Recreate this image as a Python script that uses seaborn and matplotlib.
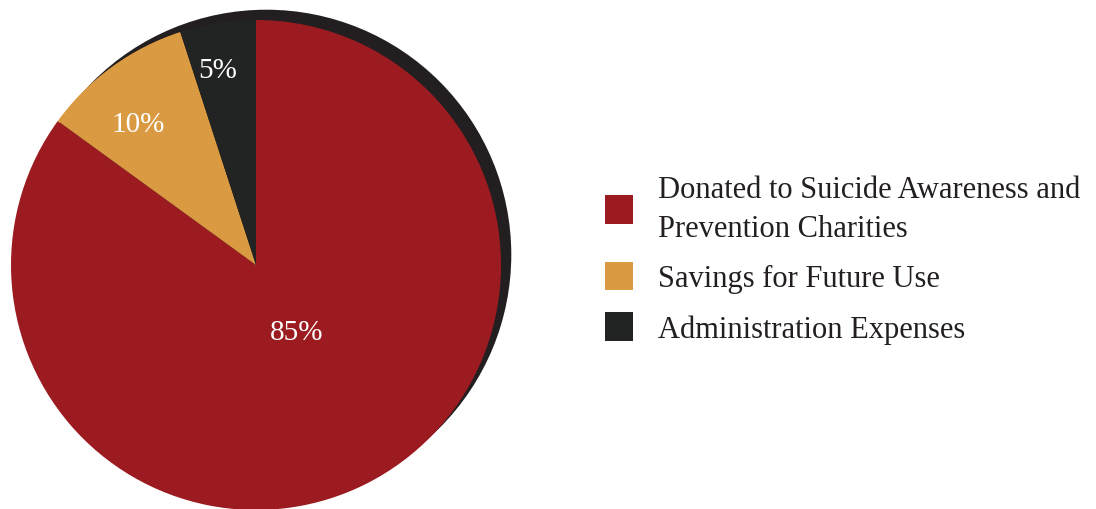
import numpy as np
import matplotlib
matplotlib.use("Agg")
import matplotlib.pyplot as plt
import matplotlib.transforms as mtransforms
from matplotlib.patches import Circle
import seaborn as sns

categories = ["Donated to Suicide Awareness and\nPrevention Charities",
              "Savings for Future Use",
              "Administration Expenses"]
values = [85, 10, 5]
pct_labels = ["85%", "10%", "5%"]
colors = ["#9B1B20", "#D99A42", "#222423"]

sns.set_theme(style="white")
plt.rcParams['font.family'] = ['Liberation Serif', 'DejaVu Serif']

W, H = 1096, 510
fig = plt.figure(figsize=(W / 100, H / 100), dpi=100)
cx, cy, r = 256, 266, 245
ax = fig.add_axes([(cx - r) / W, (H - cy - r) / H, 2 * r / W, 2 * r / H])

# shadow disc behind the pie
shadow = Circle((0.042, 0.042), 1.0, facecolor="#231F20", edgecolor="none",
                zorder=0, clip_on=False)
ax.add_patch(shadow)

wedges, _ = ax.pie(values, colors=colors, startangle=90, counterclock=False,
                   radius=1.0, wedgeprops=dict(linewidth=0, zorder=1))
for w in wedges:
    w.set_clip_on(False)
ax.set_xlim(-1, 1)
ax.set_ylim(-1, 1)
ax.set_aspect("equal")
ax.axis("off")

# label placement: radial distance and small angular shift from slice middle
dists = [0.30, 0.77, 0.835]
shifts = [6.3, 2.8, 1.7]
lab_tr = mtransforms.offset_copy(ax.transData, fig=fig, y=-6, units="dots")
for w, lab, d, s in zip(wedges, pct_labels, dists, shifts):
    ang = np.deg2rad((w.theta1 + w.theta2) / 2 + s)
    ax.text(d * np.cos(ang), d * np.sin(ang), lab, ha="center", va="center",
            color="white", fontsize=21, zorder=3, transform=lab_tr)

leg = fig.legend(wedges, categories, loc="upper left",
                 bbox_to_anchor=(605 / W, 1 - 176 / H),
                 frameon=False, fontsize=22, handlelength=0.92,
                 handleheight=1.05, handletextpad=0.83, labelspacing=0.62,
                 borderaxespad=0, borderpad=0)
for t in leg.get_texts():
    t.set_color("#231F20")
    t.set_linespacing(1.45)

fig.savefig("out.png", dpi=100, facecolor="white")
